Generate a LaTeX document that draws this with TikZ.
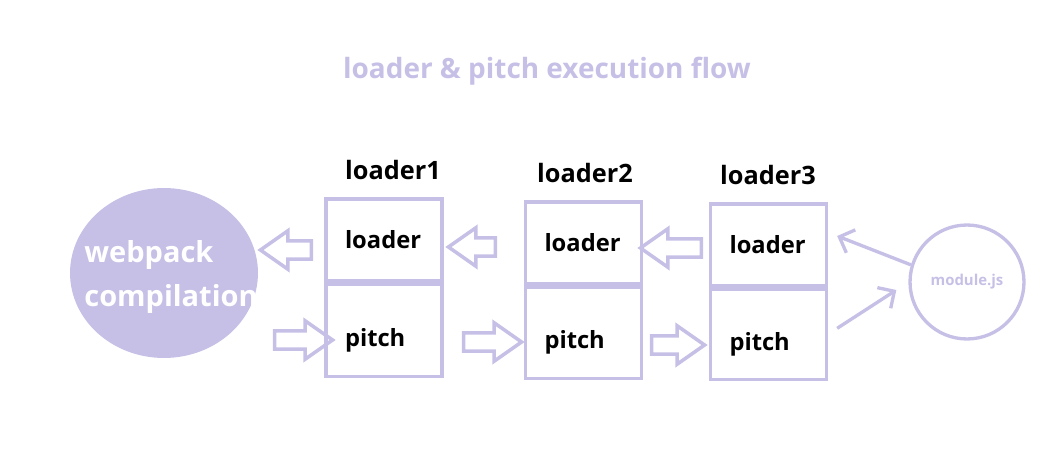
\documentclass[tikz,border=0pt]{standalone}
\usepackage{fontspec}
\setmainfont{Open Sans}
\usetikzlibrary{shapes.arrows, shapes.geometric, arrows.meta, positioning}
\definecolor{lav}{RGB}{198,192,230}

\begin{document}
\begin{tikzpicture}[x=0.02cm,y=0.02cm,
   part/.style={draw=lav,line width=1.9pt,minimum width=2.32cm,inner xsep=0.38cm,
      text width=1.56cm,align=left,font=\bfseries\fontsize{13.5}{15}\selectfont},
   low/.style={text height=21pt,text depth=3pt},
   fat/.style={single arrow,draw=lav,line width=2pt,inner sep=0pt,text height=0pt,
      text depth=0pt,inner ysep=4.25pt,single arrow head extend=0.2cm,
      single arrow tip angle=70},
   thin/.style={draw=lav,line width=1.9pt,-{Straight Barb[length=7pt,width=14pt]}},
   title/.style={font=\bfseries\fontsize{14.4}{16}\selectfont}]
   \useasboundingbox (0,0) rectangle (1045,450);
   \node[text=lav,font=\bfseries\fontsize{15.9}{18}\selectfont] (head) at (547,379)
      {loader \& pitch execution flow};
   % webpack
   \node[ellipse,fill=lav,minimum width=3.76cm,minimum height=3.4cm,inner sep=0pt] (web) at (164,177) {};
   \node[text=white,align=left,anchor=west,inner sep=0pt,font=\bfseries\fontsize{16.5}{25.5}\selectfont]
      (webtxt) at (84,173) {webpack\\compilation};
   % loaders
   \node[part,minimum height=1.64cm] (l1) at (384,210) {loader};
   \node[part,low,minimum height=1.84cm,below=0pt of l1] (p1) {pitch};
   \node[part,minimum height=1.64cm] (l2) at (583.5,207) {loader};
   \node[part,low,minimum height=1.82cm,below=0pt of l2] (p2) {pitch};
   \node[part,minimum height=1.64cm] (l3) at (768.5,205) {loader};
   \node[part,low,minimum height=1.80cm,below=0pt of l3] (p3) {pitch};
   \node[title] (n1) at (393,280) {loader1};
   \node[title] (n2) at (585,277) {loader2};
   \node[title] (n3) at (768,275) {loader3};
   % module
   \node[circle,draw=lav,line width=1.9pt,minimum size=2.28cm,inner sep=0pt,text=lav,
      font=\bfseries\fontsize{8.5}{10}\selectfont] (mod) at (967,168) {module.js};
   % fat arrows
   \node[fat,minimum height=1.02cm,shape border rotate=180] (a1) at (292.5,200) {};
   \node[fat,minimum height=1.16cm] (b1) at (297,110) {};
   \node[fat,minimum height=0.94cm,shape border rotate=180] (a2) at (478.5,203) {};
   \node[fat,minimum height=1.16cm] (b2) at (486,108) {};
   \node[fat,minimum height=1.22cm,shape border rotate=180] (a3) at (677.5,202) {};
   \node[fat,minimum height=1.06cm] (b3) at (671.5,105) {};
   \draw[thin] (mod.163) -- ([shift={(9,9)}]l3.east);
   \draw[thin] ([shift={(9,6)}]p3.east) -- ([shift={(-12,-8)}]mod.west);
\end{tikzpicture}
\end{document}
